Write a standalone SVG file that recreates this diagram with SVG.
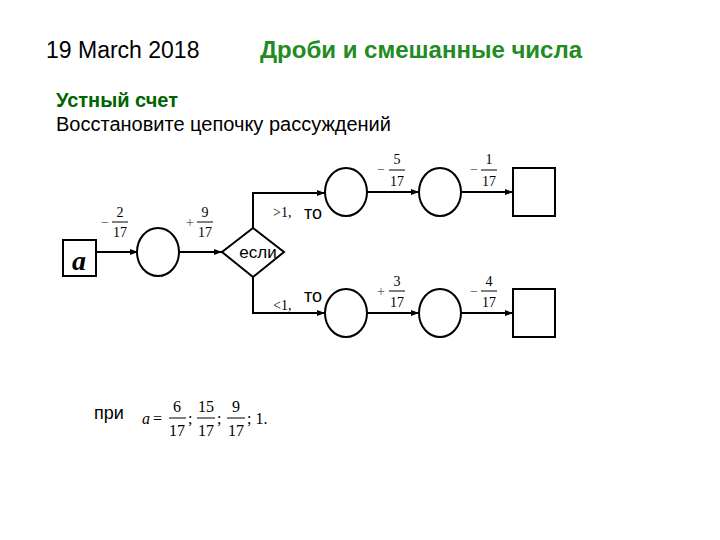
<svg xmlns="http://www.w3.org/2000/svg" width="720" height="540" viewBox="0 0 720 540">
<defs>
<marker id="ar" markerWidth="8" markerHeight="6" refX="8" refY="3" orient="auto" markerUnits="userSpaceOnUse"><path d="M0,0 L8,3 L0,6 z" fill="#000"/></marker>
<style>
.s{fill:none;stroke:#000;stroke-width:2}
.c{stroke:#000;stroke-width:2;fill:none;marker-end:url(#ar)}
.m{font-family:"Liberation Serif",serif;font-size:14px;fill:#000}
.t{font-family:"Liberation Sans",sans-serif;font-size:18px;fill:#000}
.g{font-family:"Liberation Sans",sans-serif;font-size:24px;font-weight:bold;fill:#228b22}
</style>
</defs>
<rect width="720" height="540" fill="#fff"/>
<text x="46" y="58" class="t" style="font-size:23px">19 March 2018</text>
<text x="260" y="58" class="g">Дроби и смешанные числа</text>
<text x="56" y="107" class="t" style="font-weight:bold;fill:#006400;font-size:20px">Устный счет</text>
<text x="56" y="131" class="t" style="font-size:20px">Восстановите цепочку рассуждений</text>
<g id="connectors">
<path class="c" d="M96,252 H138"/>
<path class="c" d="M179,252 H222"/>
<path class="c" d="M253,228 V193 H325"/>
<path class="c" d="M253,277 V313 H325"/>
<path class="c" d="M367,192 H419"/>
<path class="c" d="M461,192 H513"/>
<path class="c" d="M367,313 H419"/>
<path class="c" d="M461,313 H513"/>
</g>
<g id="a"><rect class="s" x="63" y="240" width="33" height="36"/><text x="79" y="270" text-anchor="middle" style="font-family:'Liberation Serif',serif;font-style:italic;font-weight:bold;font-size:28px">a</text></g>
<g id="c1"><ellipse class="s" cx="158" cy="252" rx="21" ry="24"/></g>
<g id="if"><path class="s" d="M222,252 L253,228 L284,252 L253,277 Z"/><text x="258" y="258" text-anchor="middle" class="t" style="font-size:17px">если</text></g>
<g id="c2"><ellipse class="s" cx="346" cy="192" rx="21" ry="24"/></g>
<g id="c3"><ellipse class="s" cx="440" cy="192" rx="21" ry="24"/></g>
<g id="b1"><rect class="s" x="513" y="168" width="42" height="48"/></g>
<g id="c4"><ellipse class="s" cx="346" cy="313" rx="21" ry="24"/></g>
<g id="c5"><ellipse class="s" cx="440" cy="313" rx="21" ry="24"/></g>
<g id="b2"><rect class="s" x="513" y="289" width="42" height="48"/></g>
<g id="labels" class="m">
<text x="101" y="227" fill="#555">−</text><text x="120" y="217" text-anchor="middle">2</text><line x1="112" y1="222" x2="128" y2="222" stroke="#000"/><text x="120" y="237" text-anchor="middle">17</text>
<text x="186" y="227" fill="#555">+</text><text x="205" y="217" text-anchor="middle">9</text><line x1="197" y1="222" x2="213" y2="222" stroke="#000"/><text x="205" y="237" text-anchor="middle">17</text>
<text x="377" y="174" fill="#555">−</text><text x="397" y="164" text-anchor="middle">5</text><line x1="389" y1="170" x2="405" y2="170" stroke="#000"/><text x="397" y="186" text-anchor="middle">17</text>
<text x="470" y="174" fill="#555">−</text><text x="489" y="164" text-anchor="middle">1</text><line x1="481" y1="170" x2="497" y2="170" stroke="#000"/><text x="489" y="186" text-anchor="middle">17</text>
<text x="377" y="296" fill="#555">+</text><text x="397" y="286" text-anchor="middle">3</text><line x1="389" y1="291" x2="405" y2="291" stroke="#000"/><text x="397" y="307" text-anchor="middle">17</text>
<text x="470" y="296" fill="#555">−</text><text x="489" y="286" text-anchor="middle">4</text><line x1="481" y1="291" x2="497" y2="291" stroke="#000"/><text x="489" y="307" text-anchor="middle">17</text>
<text x="273" y="217">&gt;1,</text>
<text x="273" y="310">&lt;1,</text>
</g>
<text x="304" y="219" class="t">то</text>
<text x="304" y="302" class="t">то</text>
<text x="94" y="419" class="t">при</text>
<g class="m" style="font-size:16px">
<text x="142" y="424" style="font-style:italic">a</text><text x="153" y="424">=</text>
<text x="177" y="412" text-anchor="middle">6</text><line x1="169" y1="418" x2="186" y2="418" stroke="#000"/><text x="177" y="436" text-anchor="middle">17</text><text x="188" y="424">;</text>
<text x="206" y="412" text-anchor="middle">15</text><line x1="197" y1="418" x2="215" y2="418" stroke="#000"/><text x="206" y="436" text-anchor="middle">17</text><text x="217" y="424">;</text>
<text x="236" y="412" text-anchor="middle">9</text><line x1="227" y1="418" x2="245" y2="418" stroke="#000"/><text x="236" y="436" text-anchor="middle">17</text><text x="247" y="424">; 1.</text>
</g>
</svg>
